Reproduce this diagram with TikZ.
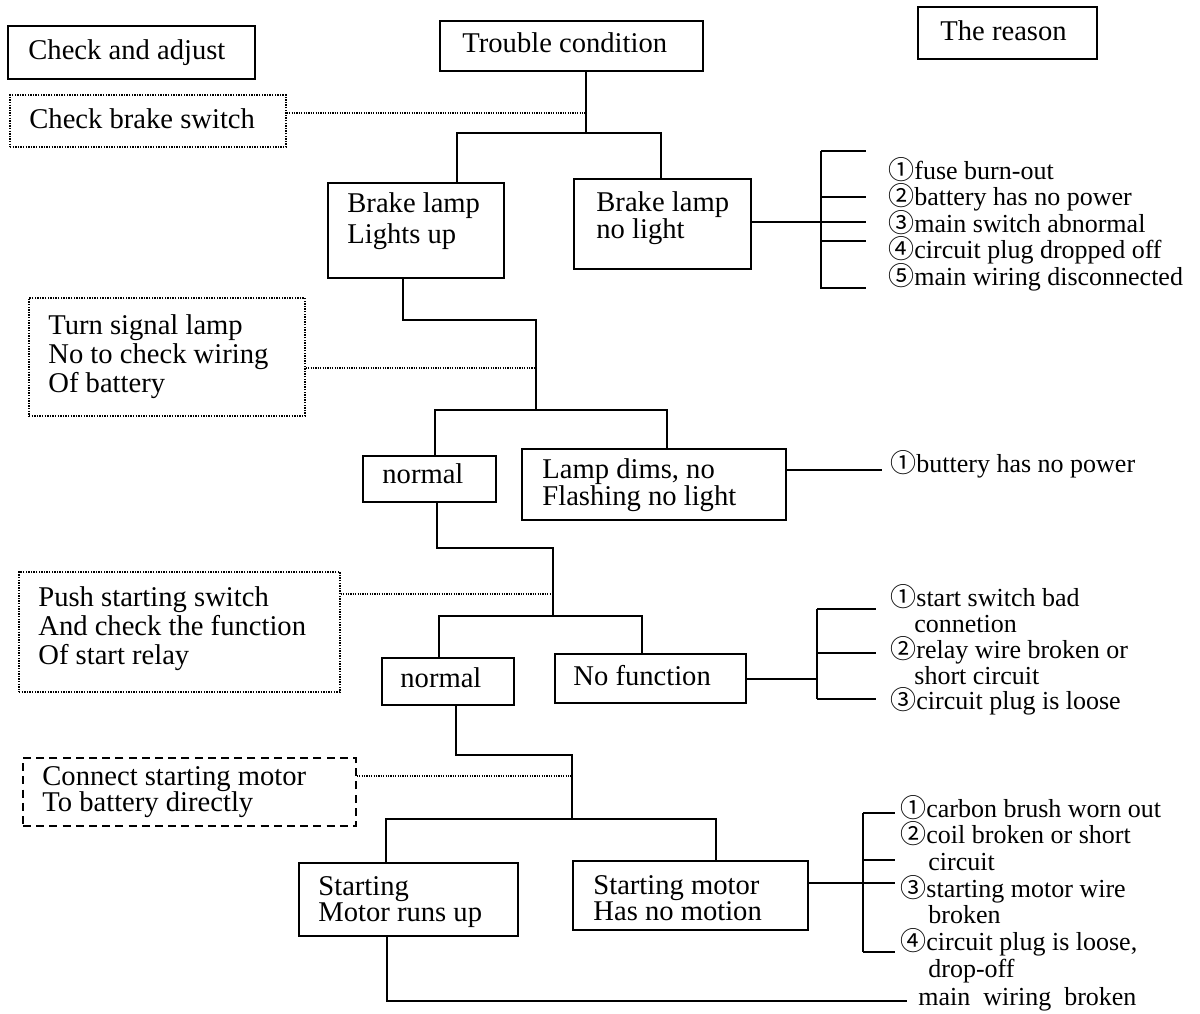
\documentclass[tikz,border=0pt]{standalone}
\usepackage{fontspec}
\setmainfont{Liberation Serif}
\newfontfamily\cjkdigits{Noto Sans CJK SC}
\usetikzlibrary{fit}
% circled item numbers come from the CJK face
\newcommand\cnum[1]{{\cjkdigits #1}}
% lines inside a node keep their set spacing even when they nearly touch
\setlength\lineskiplimit{-30pt}
\setlength\lineskip{0pt}

\begin{document}
\begin{tikzpicture}[x=0.5pt,y=-0.5pt,
  solidbox/.style={draw, line width=0.8pt, inner sep=0pt},
  dotbox/.style={draw, line width=0.7pt, dash pattern=on 0.7pt off 0.6pt, inner sep=0pt},
  dashbox/.style={draw, line width=0.7pt, dash pattern=on 4pt off 2.6pt, inner sep=0pt},
  wire/.style={line width=0.8pt},
  dotwire/.style={line width=0.55pt, dash pattern=on 0.6pt off 0.6pt},
  boxtext/.style={inner sep=0pt, anchor=west, align=left,
    font=\fontsize{14.3pt}{14.5pt}\selectfont},
  causes/.style={inner sep=0pt, anchor=west, align=left,
    font=\fontsize{13pt}{13.2pt}\selectfont},
]
\fill[white] (0,0) rectangle (1200,1013);

% ---------- column headers ----------
\node[solidbox, fit={(8,26) (255,79)}] (adjust) {};
\node[boxtext] (adjust-t) at (28,53) {Check and adjust};
\node[solidbox, fit={(440,21) (703,71)}] (trouble) {};
\node[boxtext] (trouble-t) at (462,43) {Trouble condition};
\node[solidbox, fit={(918,7) (1097,59)}] (reason) {};
\node[boxtext] (reason-t) at (940,31) {The reason};

% ---------- checks (left column) ----------
\node[dotbox, fit={(10,95) (286,147)}] (brakesw) {};
\node[boxtext] (brakesw-t) at (29,119) {Check brake switch};
\node[dotbox, fit={(29,298) (305,416)}] (turn) {};
\node[boxtext] (turn-t) at (48,357) {Turn signal lamp\\No to check wiring\\Of battery};
\node[dotbox, fit={(19,572) (340,692)}] (push) {};
\node[boxtext] (push-t) at (38,629) {Push starting switch\\And check the function\\Of start relay};
\node[dashbox, fit={(23,758) (356,826)}] (connect) {};
\node[boxtext, font=\fontsize{14.3pt}{13.3pt}\selectfont] (connect-t) at (42,792) {Connect starting motor\\To battery directly};

% ---------- conditions ----------
\node[solidbox, fit={(328,183) (504,278)}] (lampup) {};
\node[boxtext, font=\fontsize{14.3pt}{15.5pt}\selectfont] (lampup-t) at (347,221) {Brake lamp\\Lights up};
\node[solidbox, fit={(574,179) (751,269)}] (lampno) {};
\node[boxtext, font=\fontsize{14.3pt}{13.5pt}\selectfont] (lampno-t) at (596,218) {Brake lamp\\no light};
\node[solidbox, fit={(363,456) (496,502)}] (normal1) {};
\node[boxtext] (normal1-t) at (382,474) {normal};
\node[solidbox, fit={(522,449) (786,520)}] (dims) {};
\node[boxtext, font=\fontsize{14.3pt}{13.3pt}\selectfont] (dims-t) at (542,485) {Lamp dims, no\\Flashing no light};
\node[solidbox, fit={(382,658) (514,705)}] (normal2) {};
\node[boxtext] (normal2-t) at (400,678) {normal};
\node[solidbox, fit={(555,654) (746,703)}] (nofunc) {};
\node[boxtext] (nofunc-t) at (573,676) {No function};
\node[solidbox, fit={(299,863) (518,936)}] (runs) {};
\node[boxtext, font=\fontsize{14.3pt}{13.3pt}\selectfont] (runs-t) at (318,902) {Starting\\Motor runs up};
\node[solidbox, fit={(573,861) (808,930)}] (nomotion) {};
\node[boxtext, font=\fontsize{14.3pt}{13.3pt}\selectfont] (nomotion-t) at (593,898) {Starting motor\\Has no motion};

% ---------- reasons (right column) ----------
\node[causes] (causes1) at (888,224) {\cnum{①}fuse burn-out\\\cnum{②}battery has no power\\\cnum{③}main switch abnormal\\\cnum{④}circuit plug dropped off\\\cnum{⑤}main wiring disconnected};
\node[causes] (causes2) at (890,464) {\cnum{①}buttery has no power};
\node[causes, font=\fontsize{13pt}{12.9pt}\selectfont] (causes3) at (890,650) {\cnum{①}start switch bad\\\hspace*{12pt}connetion\\\cnum{②}relay wire broken or\\\hspace*{12pt}short circuit\\\cnum{③}circuit plug is loose};
\node[causes, font=\fontsize{13pt}{13.35pt}\selectfont] (causes4) at (900,889) {\cnum{①}carbon brush worn out\\\cnum{②}coil broken or short\\\hspace*{14pt}circuit\\\cnum{③}starting motor wire\\\hspace*{14pt}broken\\\cnum{④}circuit plug is loose,\\\hspace*{14pt}drop-off};
\node[causes] (causes5) at (918,999) {main~ wiring~ broken};

% ---------- junction points ----------
\coordinate (t1) at (586,133);  \coordinate (t1l) at (457,133); \coordinate (t1r) at (661,133);
\coordinate (d1) at (586,113);
\coordinate (t2a) at (403,320); \coordinate (t2b) at (536,320);
\coordinate (t2) at (536,410);  \coordinate (t2l) at (435,410); \coordinate (t2r) at (667,410);
\coordinate (d2) at (536,368);
\coordinate (t3a) at (437,548); \coordinate (t3b) at (553,548);
\coordinate (t3) at (553,616);  \coordinate (t3l) at (439,616); \coordinate (t3r) at (642,616);
\coordinate (d3) at (553,594);
\coordinate (t4a) at (456,755); \coordinate (t4b) at (572,755);
\coordinate (t4) at (572,819);  \coordinate (t4l) at (386,819); \coordinate (t4r) at (716,819);
\coordinate (d4) at (572,776);
\coordinate (t5a) at (387,1001); \coordinate (t5) at (907,1001);
\coordinate (b1) at (821,222);  \coordinate (c2) at (882,470);
\coordinate (b3) at (817,679);  \coordinate (b4) at (863,883);

% ---------- tree ----------
\draw[wire] (trouble.south -| t1) -- (t1);
\draw[wire] (lampup.north -| t1l) -- (t1l) -- (t1r) -- (lampno.north -| t1r);
\draw[dotwire] (brakesw.east |- d1) -- (d1);

\draw[wire] (lampup.south -| t2a) -- (t2a) -- (t2b) -- (t2);
\draw[wire] (normal1.north -| t2l) -- (t2l) -- (t2r) -- (dims.north -| t2r);
\draw[dotwire] (turn.east |- d2) -- (d2);

\draw[wire] (normal1.south -| t3a) -- (t3a) -- (t3b) -- (t3);
\draw[wire] (normal2.north -| t3l) -- (t3l) -- (t3r) -- (nofunc.north -| t3r);
\draw[dotwire] (push.east |- d3) -- (d3);

\draw[wire] (normal2.south -| t4a) -- (t4a) -- (t4b) -- (t4);
\draw[wire] (runs.north -| t4l) -- (t4l) -- (t4r) -- (nomotion.north -| t4r);
\draw[dotwire] (connect.east |- d4) -- (d4);

\draw[wire] (runs.south -| t5a) -- (t5a) -- (t5);

% ---------- brackets towards the reasons ----------
\draw[wire] (lampno.east |- b1) -- (b1);
\draw[wire] (821,151) -- (821,289);
\foreach \y in {151,197,222,241,288} \draw[wire] (821,\y) -- (866,\y);

\draw[wire] (dims.east |- c2) -- (c2);

\draw[wire] (nofunc.east |- b3) -- (b3);
\draw[wire] (817,609) -- (817,699);
\foreach \y in {609,653,699} \draw[wire] (817,\y) -- (876,\y);

\draw[wire] (nomotion.east |- b4) -- (b4);
\draw[wire] (863,813) -- (863,952);
\foreach \y in {813,860,883,952} \draw[wire] (863,\y) -- (895,\y);
\end{tikzpicture}
\end{document}
